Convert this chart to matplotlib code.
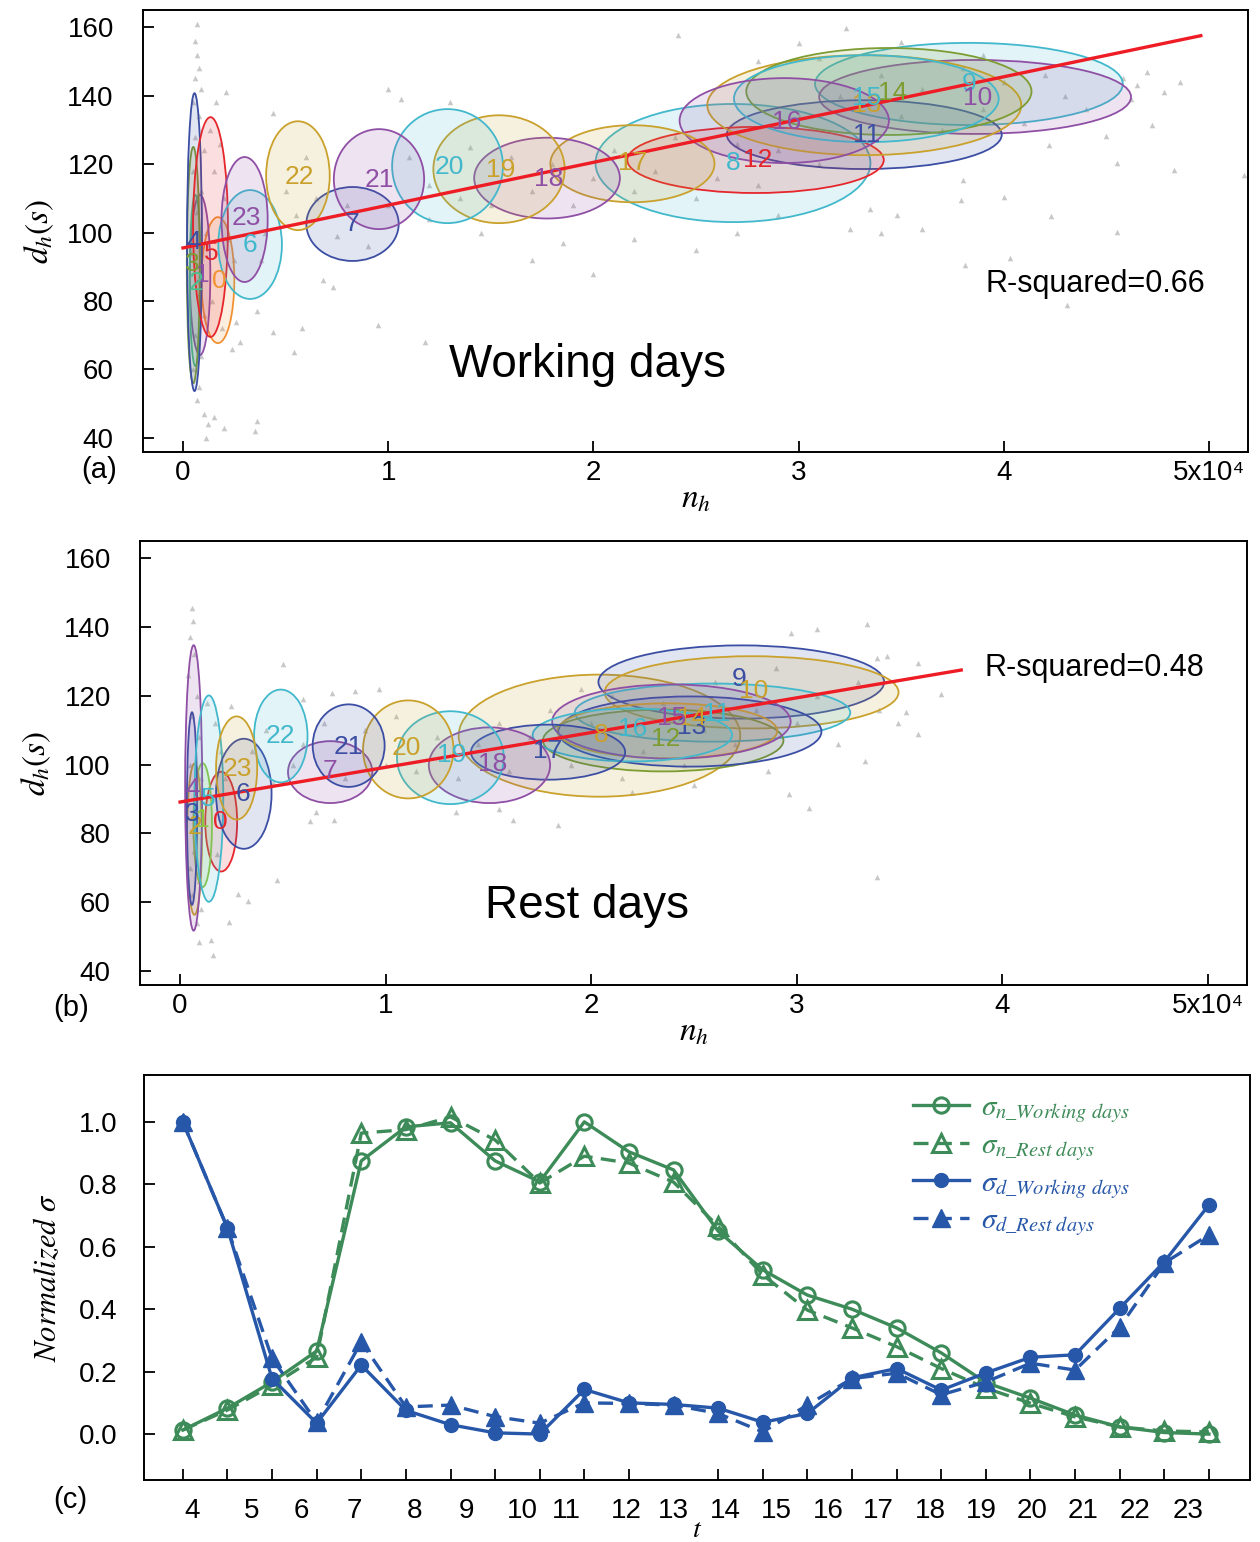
import numpy as np
import matplotlib
matplotlib.use("Agg")
import matplotlib.pyplot as plt
from matplotlib.patches import Ellipse

plt.rcParams['font.family'] = ['Liberation Sans', 'DejaVu Sans']
plt.rcParams['mathtext.fontset'] = 'stix'

# colours used by the hourly ellipses
BLUE = '#3b4ea3'
PURPLE = '#8f4fa5'
CYAN = '#42b8cc'
GOLD = '#c9a12c'
OLIVE = '#7d9c31'
RED = '#e5262c'
ORANGE = '#f29233'
TEAL = '#4cbf8e'
LIME = '#8dc63f'

hours = list(range(24))

# ---- panel (a): working days ----
ell_cx_a = [0.17, 0.083, 0.06, 0.05, 0.056, 0.134, 0.327, 0.826, 2.68, 3.83, 3.86, 3.32,
            2.79, 3.32, 3.44, 3.33, 2.93, 2.19, 1.774, 1.54, 1.289, 0.955, 0.56, 0.30]
ell_cy_a = [86.1, 87.6, 86.0, 90.5, 97.2, 101.6, 96.5, 102.5, 120.3, 143.4, 139.6, 128.6,
            121.2, 137.2, 141.2, 139.1, 132.7, 120.1, 115.9, 118.5, 119.4, 115.6, 116.6, 103.8]
ell_w_a = [0.16, 0.10, 0.055, 0.063, 0.073, 0.17, 0.31, 0.45, 1.34, 1.50, 1.52, 1.34,
           1.25, 1.53, 1.39, 1.29, 1.02, 0.80, 0.71, 0.64, 0.54, 0.44, 0.31, 0.225]
ell_h_a = [36.8, 46.7, 50, 69, 87, 64.2, 31.8, 21.6, 34.5, 24, 21.6, 20.1,
           19.3, 29.2, 25.4, 25.4, 24.8, 22.5, 23.6, 31.5, 33.3, 29.2, 31.8, 36.5]
ell_col_a = [ORANGE, PURPLE, TEAL, OLIVE, BLUE, RED, CYAN, BLUE, CYAN, CYAN, PURPLE, BLUE,
             RED, GOLD, OLIVE, CYAN, PURPLE, GOLD, PURPLE, GOLD, CYAN, PURPLE, GOLD, PURPLE]
lab_x_a = [0.175, 0.093, 0.063, 0.044, 0.054, 0.136, 0.327, 0.824, 2.68, 3.83, 3.87, 3.33,
           2.80, 3.33, 3.46, 3.33, 2.94, 2.19, 1.78, 1.55, 1.30, 0.955, 0.565, 0.31]
lab_y_a = [85.8, 87.6, 85.3, 90.8, 97.2, 94.0, 96.4, 102.5, 120.3, 143.4, 139.3, 128.5,
           121.2, 137.2, 140.7, 139.3, 132.3, 120.3, 115.6, 118.2, 119.1, 115.3, 116.2, 104.2]
fit_a = (95.5, 12.5)      # intercept, slope
fit_xr_a = (0.0, 4.96)
r2_a = 0.66

pts_x_a = [0.07, 0.06, 0.07, 0.08, 0.06, 0.09, 0.05, 0.08, 0.06, 0.10, 0.05, 0.09, 0.07, 0.11,
           0.04, 0.08, 0.10, 0.06, 0.09, 0.05, 0.08, 0.07, 0.10, 0.12, 0.15, 0.20, 0.36, 0.35,
           0.11, 0.13, 0.16, 0.21, 0.18, 0.15, 0.20, 0.22, 0.25, 0.14, 0.19, 0.24, 0.28, 0.26,
           0.36, 0.44, 0.54, 0.58, 0.68, 0.73, 0.95, 1.18, 0.44, 1.00, 1.06, 1.30,
           0.50, 0.60, 0.55, 0.65, 0.40, 0.38, 0.80, 0.90, 0.75, 1.00, 1.10, 1.20, 1.35, 1.40,
           1.50, 1.60, 1.70, 1.80, 1.90, 2.00, 2.10, 2.20, 2.30, 2.40, 2.50, 2.60, 2.70, 2.80,
           2.90, 3.00, 3.10, 3.20, 3.30, 3.40, 3.50, 3.60, 3.70, 3.80, 3.90, 4.00, 4.10, 4.20,
           4.30, 4.40,
           1.70, 1.85, 2.20, 2.50, 2.00, 1.45, 1.20, 2.70, 2.90, 3.25, 3.40, 3.60, 3.35, 3.48,
           3.79, 3.80, 4.00, 4.23, 4.55, 4.03, 3.81, 4.31,
           4.58, 4.65, 4.70, 4.78, 4.86, 4.62, 4.72, 4.50, 4.22, 4.55, 4.83, 5.17,
           3.50, 3.00, 2.41, 3.23, 2.80, 3.10, 3.90]
pts_y_a = [161, 156, 152, 148, 145, 142, 138, 134, 128, 124, 118, 112, 106, 100,
           94, 82, 76, 70, 64, 60, 55, 51, 47, 44, 46, 43, 45, 42,
           40, 130, 138, 141, 126, 118, 110, 98, 92, 80, 72, 66, 68, 74,
           77, 71, 65, 72, 86, 84, 73, 68, 135, 142, 139, 138,
           112, 122, 105, 110, 100, 92, 108, 96, 99, 108, 122, 114, 110, 125,
           108, 122, 112, 120, 108, 116, 124, 112, 118, 128, 110, 116, 126, 114,
           124, 134, 120, 140, 128, 146, 134, 142, 130, 148, 136, 144, 132, 146,
           140, 136,
           92, 97, 98, 95, 88, 100, 104, 100, 105, 101, 100, 101, 107, 105,
           109.5, 115.3, 110.4, 104.8, 100.1, 92.6, 90.5, 78.8,
           145, 143, 147, 141, 144, 139, 131.4, 128.2, 125.5, 120.3, 118.2, 116.8,
           155.6, 155.3, 157.7, 159.7, 150, 151, 152]

# ---- panel (b): rest days ----
ell_cx_b = [0.20, 0.11, 0.07, 0.058, 0.066, 0.14, 0.31, 0.73, 2.04, 2.73, 2.78, 2.59,
            2.35, 2.48, 2.37, 2.39, 2.20, 1.79, 1.505, 1.315, 1.11, 0.82, 0.49, 0.275]
ell_cy_b = [83.4, 82.4, 78.3, 87.2, 93.2, 90.1, 91.5, 97.8, 108.4, 124.0, 121.0, 115.1,
            107.0, 109.6, 109.8, 112.5, 108.6, 103.6, 99.8, 102.0, 104.4, 105.5, 108.3, 99.0]
ell_w_b = [0.155, 0.09, 0.073, 0.05, 0.083, 0.14, 0.27, 0.41, 1.37, 1.39, 1.43, 1.34,
           1.17, 1.28, 1.07, 1.16, 0.97, 0.75, 0.59, 0.52, 0.44, 0.35, 0.26, 0.20]
ell_h_b = [29, 36, 44, 56, 83, 60, 32, 18, 35.5, 21.3, 21, 16.9,
           18, 20.4, 16, 21.6, 15.4, 16, 22, 27, 28.5, 24, 27, 30]
ell_col_b = [RED, LIME, GOLD, BLUE, PURPLE, CYAN, BLUE, PURPLE, GOLD, BLUE, GOLD, CYAN,
             OLIVE, BLUE, GOLD, PURPLE, CYAN, BLUE, PURPLE, CYAN, GOLD, BLUE, CYAN, GOLD]
lab_x_b = [0.195, 0.11, 0.073, 0.058, 0.063, 0.136, 0.307, 0.73, 2.05, 2.72, 2.79, 2.61,
           2.36, 2.49, 2.49, 2.39, 2.20, 1.79, 1.52, 1.32, 1.10, 0.82, 0.49, 0.28]
lab_y_b = [83.4, 84.0, 81.9, 85.7, 93.0, 90.1, 91.5, 98.0, 108.7, 124.8, 121.3, 114.6,
           107.3, 111.0, 113.4, 113.4, 110.2, 103.8, 100.3, 102.9, 104.7, 105.2, 108.2, 98.8]
fit_b = (89.1, 10.1)
fit_xr_b = (0.0, 3.8)
r2_b = 0.48

pts_x_b = [0.06, 0.065, 0.05, 0.07, 0.04, 0.08, 0.06, 0.09, 0.05, 0.10, 0.07, 0.05, 0.09, 0.06,
           0.10, 0.08, 0.09, 0.15, 0.16, 0.24, 0.28, 0.33, 0.47, 0.13, 0.17, 0.20, 0.22, 0.18,
           0.25, 0.50, 0.60, 0.74, 0.85, 0.97, 0.63, 0.75, 0.66, 1.62, 1.84, 1.55, 1.34,
           0.35, 0.42, 0.55, 0.45, 0.60, 0.70, 0.80, 0.90, 1.00, 1.05, 1.15, 1.25, 1.35, 1.45,
           1.55, 1.60, 1.70, 1.80, 1.90, 2.00, 2.10, 2.15, 2.25, 2.35, 2.45, 2.55, 2.60, 2.70,
           2.80, 2.90, 3.00, 3.10, 3.20, 3.30, 3.40, 2.20, 2.50, 1.95,
           3.34, 3.10, 2.97, 3.59, 3.70, 3.53, 3.49, 3.59, 3.33, 2.96, 3.06, 3.39, 2.86, 3.44,
           3.39]
pts_y_b = [145.4, 141.6, 137, 132, 126, 120, 114, 108, 100, 96, 75, 70, 66, 62,
           58, 54, 48.4, 49, 44.7, 54.3, 62.4, 60.4, 66.5, 118, 112, 104, 96, 74,
           116.9, 129.1, 119.2, 120.7, 121.3, 122.1, 83.7, 84, 86.3, 84, 82.5, 87.2, 86.3,
           104, 110, 100, 95, 106, 112, 96, 110, 100, 114, 98, 108, 96, 106,
           112, 98, 108, 116, 100, 112, 120, 96, 104, 118, 100, 110, 124, 106,
           116, 128, 112, 120, 106, 124, 116, 92, 94, 122,
           140.8, 139.3, 138.2, 129.4, 120.4, 115.4, 112, 109, 100.9, 91.5, 87.5, 67.4, 98, 131.5,
           130.9]

# ---- panel (c): normalized sigma per hour ----
t_idx = list(range(24))
sig_n_work = [0.013, 0.083, 0.167, 0.266, 0.875, 0.984, 0.997, 0.875, 0.808, 1.0, 0.904, 0.846,
              0.65, 0.526, 0.445, 0.40, 0.34, 0.26, 0.165, 0.115, 0.061, 0.023, 0.005, 0.0]
sig_n_rest = [0.013, 0.077, 0.156, 0.246, 0.964, 0.975, 1.016, 0.942, 0.804, 0.89, 0.868, 0.807,
              0.665, 0.51, 0.397, 0.34, 0.28, 0.21, 0.147, 0.099, 0.055, 0.023, 0.01, 0.007]
sig_d_work = [1.0, 0.66, 0.178, 0.035, 0.221, 0.076, 0.03, 0.004, 0.0, 0.143, 0.10, 0.095,
              0.083, 0.038, 0.066, 0.18, 0.21, 0.141, 0.196, 0.246, 0.254, 0.403, 0.552, 0.734]
sig_d_rest = [1.0, 0.66, 0.243, 0.038, 0.295, 0.087, 0.093, 0.056, 0.035, 0.10, 0.098, 0.093,
              0.066, 0.007, 0.093, 0.178, 0.195, 0.126, 0.167, 0.227, 0.205, 0.343, 0.548, 0.638]
t_labels = [str(h) for h in range(4, 24)]
t_label_pos = [0.2, 1.55, 2.65, 3.85, 5.2, 6.35, 7.6, 8.6, 9.95, 11.0, 12.17, 13.3, 14.46,
               15.6, 16.75, 17.9, 19.04, 20.18, 21.35, 22.53]

GREEN = '#3d8b58'
LBLUE = '#2757a8'

fig = plt.figure(figsize=(12.6, 15.42), dpi=100)
W, H = 1260.0, 1542.0


def scatter_panel(ax, px, py, cx, cy, ew, eh, cols, lx, ly, fit, xr, r2, r2pos, title, tpos):
    ax.scatter(px, py, marker='^', s=16, color='#c8c8c8', linewidths=0, zorder=1)
    for i in range(len(cx)):
        e = Ellipse((cx[i], cy[i]), ew[i], eh[i], edgecolor=cols[i], lw=1.3, zorder=2,
                    facecolor=matplotlib.colors.to_rgba(cols[i], 0.15))
        ax.add_patch(e)
    fx = np.array(xr)
    ax.plot(fx, fit[0] + fit[1] * fx, color='#ee1c25', lw=2.4, zorder=3)
    for i in range(len(lx)):
        ax.text(lx[i], ly[i], str(hours[i]), color=cols[i], fontsize=19,
                ha='center', va='center', zorder=4)
    ax.text(r2pos[0], r2pos[1], 'R-squared=%.2f' % r2, fontsize=22, ha='right', va='center')
    ax.text(tpos[0], tpos[1], title, fontsize=33, ha='center', va='center')
    ax.set_xlim(-0.195, 5.19)
    ax.set_ylim(35.9, 165)
    ax.set_xticks([0, 1, 2, 3, 4, 5], ['0', '1', '2', '3', '4', '5x10\u2074'])
    ax.set_yticks([40, 60, 80, 100, 120, 140, 160])
    ax.tick_params(direction='in', length=8, width=1.3, labelsize=20)
    ax.tick_params(axis='y', pad=21)
    ax.tick_params(axis='x', pad=6)
    for s in ax.spines.values():
        s.set_linewidth(1.4)
    ax.set_ylabel(r'$d_h(s)$', fontsize=24, labelpad=8)
    ax.set_xlabel(r'$n_h$', fontsize=24, labelpad=-2)


ax1 = fig.add_axes([143 / W, 1 - 452 / H, 1105 / W, 442 / H])
scatter_panel(ax1, pts_x_a, pts_y_a, ell_cx_a, ell_cy_a, ell_w_a, ell_h_a, ell_col_a,
              lab_x_a, lab_y_a, fit_a, fit_xr_a, r2_a, (4.98, 85), 'Working days', (1.97, 61.3))

ax2 = fig.add_axes([140 / W, 1 - 985 / H, 1107 / W, 444 / H])
scatter_panel(ax2, pts_x_b, pts_y_b, ell_cx_b, ell_cy_b, ell_w_b, ell_h_b, ell_col_b,
              lab_x_b, lab_y_b, fit_b, fit_xr_b, r2_b, (4.98, 128.2), 'Rest days', (1.98, 58.9))

ax3 = fig.add_axes([144 / W, 1 - 1480 / H, 1106 / W, 405 / H])
ax3.plot(t_idx, sig_n_work, '-o', color=GREEN, lw=2.4, ms=11, mfc='none', mew=2.2,
         label=r'$\sigma_{n\_Working\ days}$')
ax3.plot(t_idx, sig_n_rest, '^', ls=(0, (4.5, 2.5)), color=GREEN, lw=2.4, ms=13, mfc='none',
         mew=2.2, label=r'$\sigma_{n\_Rest\ days}$')
ax3.plot(t_idx, sig_d_work, '-o', color=LBLUE, lw=2.4, ms=10,
         label=r'$\sigma_{d\_Working\ days}$')
ax3.plot(t_idx, sig_d_rest, '^', ls=(0, (4.5, 2.5)), color=LBLUE, lw=2.4, ms=13,
         label=r'$\sigma_{d\_Rest\ days}$')
ax3.set_xlim(-0.87, 23.92)
ax3.set_ylim(-0.147, 1.15)
ax3.set_yticks([0, 0.2, 0.4, 0.6, 0.8, 1.0], ['0.0', '0.2', '0.4', '0.6', '0.8', '1.0'])
ax3.set_xticks(t_label_pos, t_labels)
ax3.set_xticks(t_idx, minor=True)
ax3.tick_params(axis='x', which='major', length=0, pad=13, labelsize=20)
ax3.tick_params(axis='x', which='minor', direction='in', length=8, width=1.3)
ax3.tick_params(axis='y', direction='in', length=8, width=1.3, pad=19, labelsize=20)
for s in ax3.spines.values():
    s.set_linewidth(1.4)
ax3.set_ylabel('Normalized $\\sigma$', fontsize=22, family='STIXGeneral', style='italic',
               labelpad=12)
ax3.set_xlabel(r'$t$', fontsize=20, labelpad=-5)
leg = ax3.legend(loc='upper left', bbox_to_anchor=(0.672, 1.02), frameon=False, fontsize=21,
                 handlelength=1.9, handletextpad=0.4, labelspacing=0.2,
                 labelcolor='linecolor')

fig.text(99 / W, 1 - 470 / H, '(a)', fontsize=21, ha='center', va='center')
fig.text(71 / W, 1 - 1008 / H, '(b)', fontsize=21, ha='center', va='center')
fig.text(70 / W, 1 - 1500 / H, '(c)', fontsize=21, ha='center', va='center')

fig.savefig('out.png', dpi=100)
